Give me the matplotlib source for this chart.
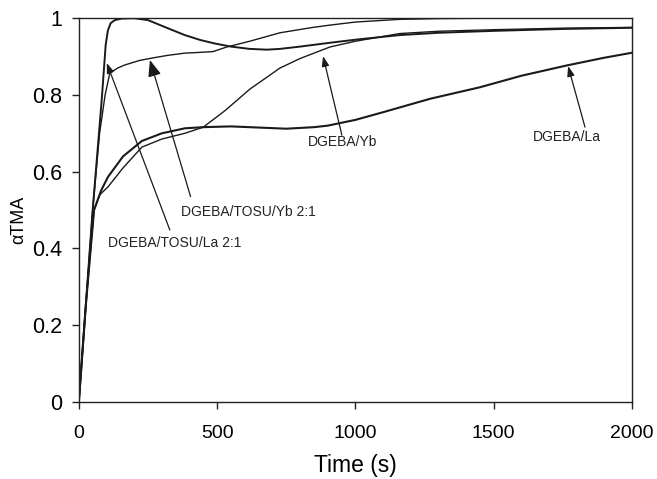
import matplotlib
matplotlib.use("Agg")
from matplotlib import pyplot

pyplot.rcParams['font.family'] = ['Liberation Sans', 'DejaVu Sans']

# DGEBA/TOSU/La 2:1
t_tosu_la = [0, 25, 50, 83, 97, 105, 115, 130, 155, 200, 250, 311, 383, 440, 492, 550,
             618, 680, 727, 800, 908, 1000, 1160, 1300, 1500, 1750, 2000]
a_tosu_la = [0, 0.25, 0.5, 0.79, 0.93, 0.968, 0.987, 0.995, 0.999, 1.0, 0.995, 0.977, 0.956,
             0.943, 0.934, 0.926, 0.92, 0.918, 0.92, 0.926, 0.936, 0.944, 0.956, 0.962, 0.967,
             0.972, 0.975]

# DGEBA/TOSU/Yb 2:1
t_tosu_yb = [0, 25, 50, 75, 95, 112, 140, 166, 220, 264, 320, 383, 440, 485, 535, 618,
             727, 846, 908, 1000, 1160, 1300, 1500, 2000]
a_tosu_yb = [0, 0.25, 0.5, 0.7, 0.8, 0.857, 0.87, 0.878, 0.89, 0.896, 0.903, 0.909, 0.911,
             0.913, 0.925, 0.94, 0.962, 0.976, 0.982, 0.99, 0.997, 0.999, 1.0, 1.0]

# DGEBA/Yb
t_yb = [0, 25, 55, 76, 105, 160, 228, 300, 383, 450, 530, 618, 727, 800, 908, 1000, 1160,
        1300, 1500, 1750, 2000]
a_yb = [0, 0.25, 0.5, 0.54, 0.56, 0.61, 0.664, 0.685, 0.70, 0.716, 0.76, 0.815, 0.87, 0.895,
        0.925, 0.94, 0.96, 0.966, 0.97, 0.974, 0.976]

# DGEBA/La
t_la = [0, 25, 55, 80, 105, 160, 228, 300, 383, 450, 550, 650, 750, 850, 900, 1000, 1100,
        1270, 1450, 1600, 1765, 1900, 2000]
a_la = [0, 0.25, 0.5, 0.55, 0.586, 0.64, 0.68, 0.70, 0.713, 0.716, 0.718, 0.715, 0.712,
        0.716, 0.72, 0.735, 0.755, 0.79, 0.82, 0.85, 0.877, 0.897, 0.91]

x_ticks = [0, 500, 1000, 1500, 2000]
y_ticks = [0, 0.2, 0.4, 0.6, 0.8, 1]
y_tick_labels = ['0', '0.2', '0.4', '0.6', '0.8', '1']

LINE = '#1a1a1a'


def main():
    fig = pyplot.figure(figsize=(6.57, 4.79), dpi=100)
    ax = fig.add_axes([0.120, 0.161, 0.842, 0.801])

    ax.plot(t_tosu_la, a_tosu_la, color=LINE, lw=1.4)
    ax.plot(t_tosu_yb, a_tosu_yb, color=LINE, lw=1.0)
    ax.plot(t_yb, a_yb, color=LINE, lw=1.0)
    ax.plot(t_la, a_la, color=LINE, lw=1.5)

    ax.set_xlim(0, 2000)
    ax.set_ylim(0, 1)
    ax.set_xticks(x_ticks)
    ax.set_yticks(y_ticks)
    ax.set_yticklabels(y_tick_labels)
    ax.tick_params(direction='out', length=5, width=1, color='#222222')
    ax.tick_params(axis='x', pad=12, labelsize=14)
    ax.tick_params(axis='y', pad=7, labelsize=15.5)
    for s in ax.spines.values():
        s.set_linewidth(1.0)
        s.set_color('#222222')

    ax.set_xlabel('Time (s)', fontsize=16.5, labelpad=8)
    ax.set_ylabel('αTMA', fontsize=13)
    ax.yaxis.set_label_coords(-0.094, 0.474)

    small = dict(arrowstyle='-|>,head_length=0.6,head_width=0.22', color=LINE, lw=0.9,
                 shrinkA=0, shrinkB=0, mutation_scale=10)
    big = dict(arrowstyle='-|>,head_length=1.0,head_width=0.4', color=LINE, lw=0.9,
               shrinkA=0, shrinkB=0, mutation_scale=10)

    ax.annotate('', xy=(101, 0.883), xytext=(329, 0.448), arrowprops=small)
    ax.annotate('', xy=(257, 0.891), xytext=(404, 0.535), arrowprops=big)
    ax.annotate('', xy=(883, 0.901), xytext=(951, 0.695), arrowprops=small)
    ax.annotate('', xy=(1769, 0.875), xytext=(1830, 0.716), arrowprops=small)

    kw = dict(fontsize=10, ha='center', va='center', color='#222222')
    ax.text(345, 0.415, 'DGEBA/TOSU/La 2:1', **kw)
    ax.text(612, 0.496, 'DGEBA/TOSU/Yb 2:1', **kw)
    ax.text(952, 0.678, 'DGEBA/Yb', **kw)
    ax.text(1765, 0.69, 'DGEBA/La', **kw)

    fig.savefig('out.png', dpi=100)
    pyplot.close(fig)


if __name__ == "__main__":
    main()
